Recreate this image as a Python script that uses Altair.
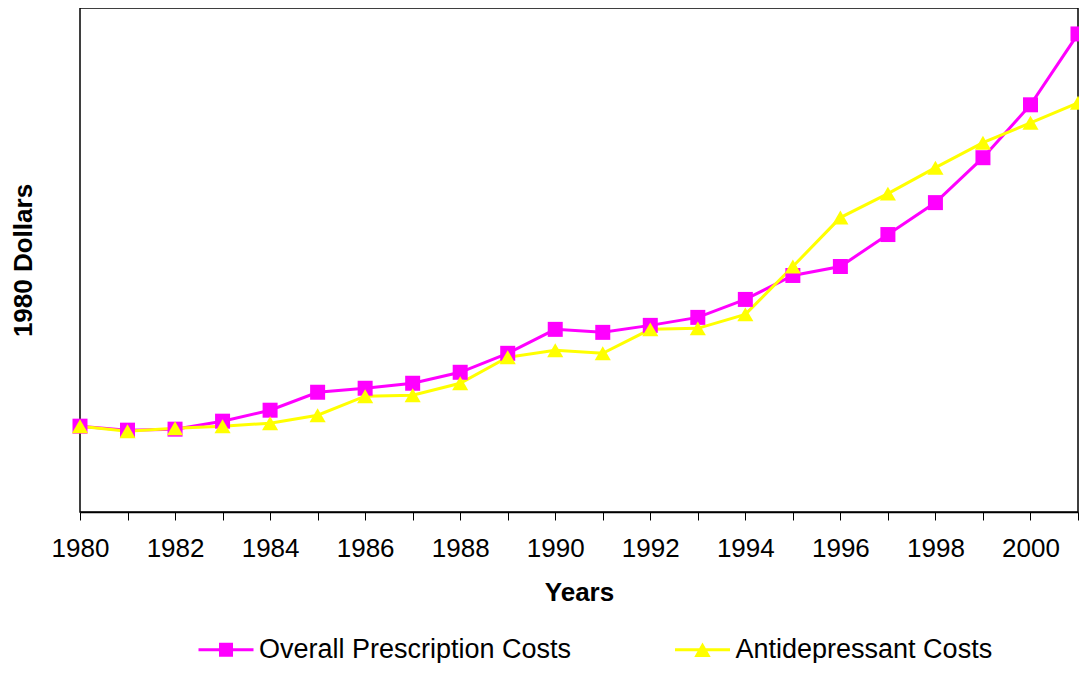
import altair as alt
import pandas as pd

years = [1980, 1981, 1982, 1983, 1984, 1985, 1986, 1987, 1988, 1989, 1990,
         1991, 1992, 1993, 1994, 1995, 1996, 1997, 1998, 1999, 2000, 2001]
overall = [86, 82, 83, 91, 102, 120, 124, 129, 140, 159, 183,
           180, 187, 195, 213, 237, 246, 278, 310, 355, 408, 479]
antidep = [86, 81, 84, 86, 89, 97, 116, 117, 129, 155, 162,
           159, 183, 184, 198, 246, 295, 319, 345, 370, 390, 410]
series_names = ["Overall Prescription Costs", "Antidepressant Costs"]
series_colors = ["#FF00FF", "#FFFF00"]
tick_years = years
label_years = [1980, 1982, 1984, 1986, 1988, 1990, 1992, 1994, 1996, 1998, 2000]

df = pd.DataFrame({
    "year": years * 2,
    "value": overall + antidep,
    "series": [series_names[0]] * len(years) + [series_names[1]] * len(years),
})
legend_df = pd.DataFrame({"label": series_names})

FONT = "Liberation Sans"
label_expr = "indexof([" + ",".join(str(y) for y in label_years) + "], datum.value) >= 0 ? datum.value : ''"

x_enc = alt.X("year:Q", scale=alt.Scale(domain=[1980, 2001], nice=False, zero=False),
              axis=alt.Axis(values=tick_years, labelExpr=label_expr, format="d",
                            title="Years", titleFontSize=26, titleFontWeight="bold",
                            titleFont=FONT, titlePadding=18, labelFont=FONT,
                            labelFontSize=26, labelColor="black", labelPadding=15,
                            tickSize=8, tickColor="black", tickWidth=1,
                            domainColor="black", domainWidth=1.5, grid=False,
                            labelOverlap=False, labelFlush=False))
y_enc = alt.Y("value:Q", scale=alt.Scale(domain=[0, 505], nice=False),
              axis=alt.Axis(labels=False, ticks=False, domain=False, grid=False,
                            title="1980 Dollars", titleFontSize=26,
                            titleFontWeight="bold", titleFont=FONT, titlePadding=44))

base = alt.Chart(df)

line_over = base.transform_filter(alt.datum.series == series_names[0]).mark_line(
    color=series_colors[0], strokeWidth=3).encode(x=x_enc, y=y_enc)
line_anti = base.transform_filter(alt.datum.series == series_names[1]).mark_line(
    color=series_colors[1], strokeWidth=3).encode(x=x_enc, y=y_enc)
pt_over = base.transform_filter(alt.datum.series == series_names[0]).mark_point(
    shape="square", filled=True, opacity=1, size=225, color=series_colors[0]).encode(x=x_enc, y=y_enc)
pt_anti = base.transform_filter(alt.datum.series == series_names[1]).mark_point(
    shape="triangle-up", filled=True, opacity=1, size=260, color=series_colors[1]).encode(x=x_enc, y=y_enc)

sq_path = "M-2.75,-0.14H2.75V0.14H-2.75Z M-0.7,-0.7H0.7V0.7H-0.7Z"
tri_path = "M-2.75,-0.14H2.75V0.14H-2.75Z M0,-0.72L0.82,0.72H-0.82Z"

leg = alt.Legend(title=None, orient="none", legendX=132.5, legendY=628,
                 direction="horizontal", columnPadding=103.5,
                 labelFont=FONT, labelFontSize=27, labelColor="black",
                 labelOffset=19.5, symbolSize=400, symbolStrokeWidth=0,
                 symbolOpacity=1, labelLimit=600, padding=0)

legend_layer = alt.Chart(legend_df).mark_point(filled=True, opacity=1, size=400, clip=True).encode(
    x=alt.value(-300), y=alt.value(-300),
    color=alt.Color("label:N", scale=alt.Scale(domain=series_names, range=series_colors), legend=leg),
    shape=alt.Shape("label:N", scale=alt.Scale(domain=series_names, range=[sq_path, tri_path]), legend=leg),
)

chart = alt.layer(line_over, line_anti, pt_over, pt_anti, legend_layer).properties(
    width=998, height=504,
    autosize=alt.AutoSizeParams(type="none"),
    padding={"left": 72, "top": 0, "right": 1, "bottom": 151},
    background="white",
).configure_view(stroke="black", strokeWidth=1.5)

chart.save("out.html", embed_options={"renderer": "svg", "actions": False})
